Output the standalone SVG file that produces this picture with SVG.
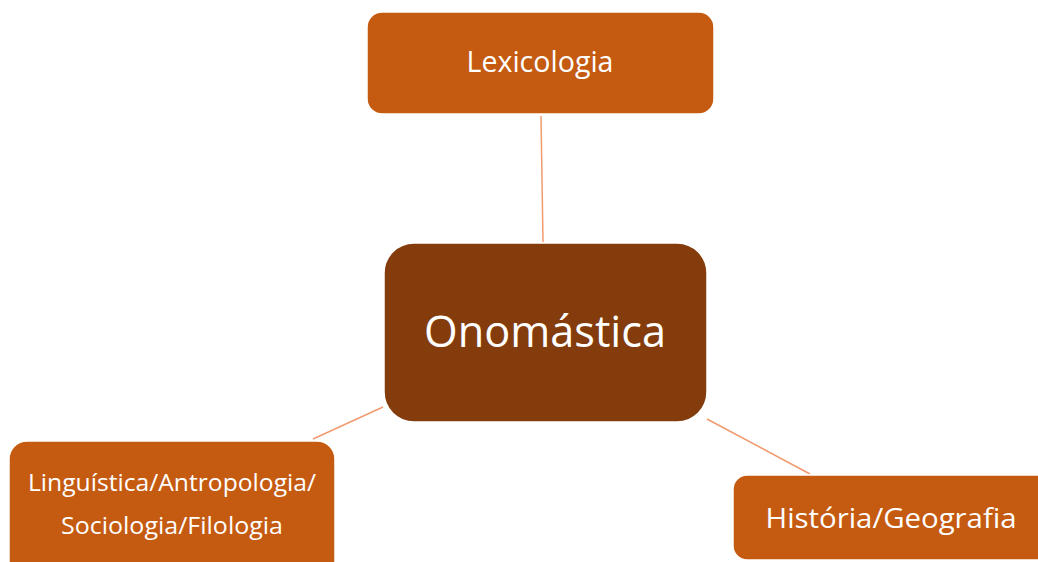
<svg xmlns="http://www.w3.org/2000/svg" width="1038" height="562" viewBox="0 0 1038 562">
<style>
.box{fill:#C55A11;stroke:#FFFFFF;stroke-width:1.5}
.center{fill:#843C0C;stroke:#FFFFFF;stroke-width:1.5}
.t{font-family:"Open Sans","Liberation Sans",sans-serif;fill:#FFFFFF;text-anchor:middle}
.c{stroke:#F19A6E;stroke-width:1.5;fill:none}
</style>
<rect width="1038" height="562" fill="#FFFFFF"/>
<g id="connectors">
<line class="c" x1="541" y1="116" x2="543" y2="242"/>
<line class="c" x1="383" y1="407" x2="313" y2="439"/>
<line class="c" x1="707" y1="419" x2="810" y2="474"/>
</g>
<g id="node-lexicologia">
<rect class="box" x="367" y="12" width="347" height="102" rx="15"/>
<text class="t" x="540" y="72" font-size="29" textLength="147" lengthAdjust="spacingAndGlyphs">Lexicologia</text>
</g>
<g id="node-onomastica">
<rect class="center" x="384" y="243" width="323" height="179" rx="30"/>
<text class="t" x="545" y="347" font-size="44" textLength="242" lengthAdjust="spacingAndGlyphs">Onomástica</text>
</g>
<g id="node-linguistica">
<rect class="box" x="9" y="441" width="326" height="140" rx="18"/>
<text class="t" x="172" y="491" font-size="24" textLength="288" lengthAdjust="spacingAndGlyphs">Linguística/Antropologia/</text>
<text class="t" x="172" y="534" font-size="24" textLength="222" lengthAdjust="spacingAndGlyphs">Sociologia/Filologia</text>
</g>
<g id="node-historia">
<rect class="box" x="733" y="475" width="330" height="85" rx="14"/>
<text class="t" x="891" y="528" font-size="28" textLength="251" lengthAdjust="spacingAndGlyphs">História/Geografia</text>
</g>
</svg>
